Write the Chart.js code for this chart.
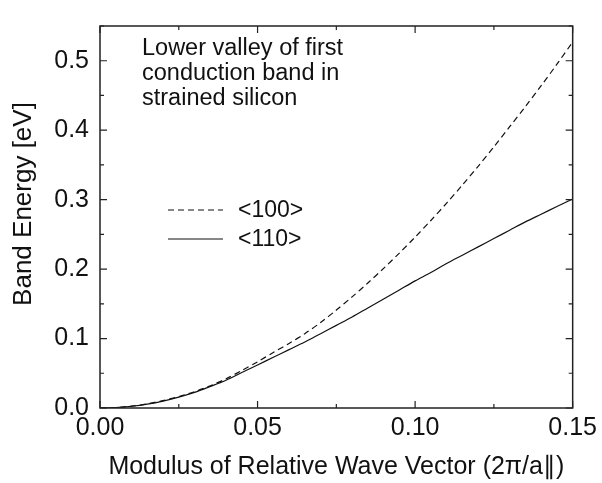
<!DOCTYPE html>
<html>
<head>
<meta charset="utf-8">
<script src="https://cdn.jsdelivr.net/npm/chart.js@4/dist/chart.umd.min.js"></script>
<style>
    html, body { margin: 0; padding: 0; background: #fff; }
    #wrap { width: 602px; height: 483px; }
</style>
</head>
<body>
<div id="wrap"><canvas id="band-chart"></canvas></div>
<script>
// Wave vector (2pi/a) sample points
const waveVector = [0, 0.005, 0.01, 0.015, 0.02, 0.025, 0.03, 0.035, 0.04, 0.045,
    0.05, 0.055, 0.06, 0.065, 0.07, 0.075, 0.08, 0.085, 0.09, 0.095,
    0.10, 0.105, 0.11, 0.115, 0.12, 0.125, 0.13, 0.135, 0.14, 0.145, 0.15];

// Band energy along <100> (dashed)
const energy100 = [0, 0.0007, 0.0027, 0.006, 0.0107, 0.0165, 0.0235, 0.032, 0.042, 0.054,
    0.0665, 0.080, 0.093, 0.107, 0.123, 0.141, 0.160, 0.180, 0.201, 0.223,
    0.246, 0.270, 0.295, 0.321, 0.348, 0.376, 0.405, 0.434, 0.464, 0.495, 0.527];

// Band energy along <110> (solid)
const energy110 = [0, 0.0006, 0.0025, 0.0056, 0.0100, 0.0157, 0.0225, 0.031, 0.040, 0.051,
    0.062, 0.073, 0.084, 0.095, 0.107, 0.119, 0.131, 0.144, 0.157, 0.170,
    0.183, 0.195, 0.208, 0.220, 0.232, 0.244, 0.256, 0.268, 0.279, 0.290, 0.301];

const seriesLabels = ['<100>', '<110>'];
const noteLines = ['Lower valley of first', 'conduction band in', 'strained silicon'];
const xTickValues = [0, 0.05, 0.10, 0.15];
const yTickValues = [0, 0.1, 0.2, 0.3, 0.4, 0.5];
const yTitle = 'Band Energy [eV]';

const FONT = "'Liberation Sans', Arial, Helvetica, sans-serif";
const INK = '#111';

const toPoints = (ys) => waveVector.map((x, i) => ({ x: x, y: ys[i] }));

// Draws the frame, inward ticks on all sides, the legend, the note and the y title
const framePlugin = {
    id: 'frame',
    afterDraw(chart) {
        const ctx = chart.ctx;
        const a = chart.chartArea;
        const xs = chart.scales.x;
        const ys = chart.scales.y;
        ctx.save();
        ctx.strokeStyle = '#222';
        ctx.lineWidth = 1.5;
        ctx.strokeRect(a.left, a.top, a.right - a.left, a.bottom - a.top);

        ctx.lineWidth = 1.2;
        ctx.beginPath();
        // x ticks every 0.025, major every 0.05
        for (let i = 0; i <= 6; i++) {
            const px = xs.getPixelForValue(i * 0.025);
            const len = i % 2 === 0 ? 7 : 4;
            ctx.moveTo(px, a.bottom); ctx.lineTo(px, a.bottom - len);
            ctx.moveTo(px, a.top); ctx.lineTo(px, a.top + len);
        }
        // y ticks every 0.05, major every 0.1
        for (let i = 0; i <= 11; i++) {
            const py = ys.getPixelForValue(i * 0.05);
            const len = i % 2 === 0 ? 7 : 4;
            ctx.moveTo(a.left, py); ctx.lineTo(a.left + len, py);
            ctx.moveTo(a.right, py); ctx.lineTo(a.right - len, py);
        }
        ctx.stroke();

        // legend inside the plot
        ctx.fillStyle = INK;
        ctx.font = '23px ' + FONT;
        ctx.textBaseline = 'middle';
        const legendY = [210, 239];
        chart.data.datasets.forEach((ds, i) => {
            ctx.strokeStyle = ds.borderColor;
            ctx.lineWidth = ds.borderWidth;
            ctx.setLineDash(ds.borderDash || []);
            ctx.beginPath();
            ctx.moveTo(168, legendY[i]);
            ctx.lineTo(223, legendY[i]);
            ctx.stroke();
            ctx.setLineDash([]);
            ctx.fillText(ds.label, 238, legendY[i] + 1);
        });

        // note text
        ctx.font = '23.5px ' + FONT;
        ctx.textBaseline = 'alphabetic';
        noteLines.forEach((line, i) => {
            ctx.fillText(line, 142, 55 + i * 25);
        });

        // y axis title
        ctx.font = '26px ' + FONT;
        ctx.textAlign = 'center';
        ctx.textBaseline = 'middle';
        ctx.translate(24, 204);
        ctx.rotate(-Math.PI / 2);
        ctx.fillText(yTitle, 0, 0);
        ctx.restore();
    }
};

new Chart(document.getElementById('band-chart').getContext('2d'), {
    type: 'line',
    data: {
        datasets: [
            {
                label: seriesLabels[0],
                data: toPoints(energy100),
                borderColor: INK,
                borderWidth: 1.2,
                borderDash: [6, 4],
                pointRadius: 0,
                fill: false,
                tension: 0.3
            },
            {
                label: seriesLabels[1],
                data: toPoints(energy110),
                borderColor: INK,
                borderWidth: 1.2,
                pointRadius: 0,
                fill: false,
                tension: 0.3
            }
        ]
    },
    options: {
        responsive: true,
        maintainAspectRatio: false,
        animation: false,
        layout: { padding: { left: 0, right: 29, top: 11, bottom: 0 } },
        scales: {
            x: {
                type: 'linear',
                min: 0,
                max: 0.15,
                afterBuildTicks: (s) => { s.ticks = xTickValues.map(v => ({ value: v })); },
                afterFit: (s) => { s.height = 75; },
                grid: { display: false, drawTicks: false },
                border: { display: false },
                ticks: {
                    padding: 5,
                    color: INK,
                    maxRotation: 0,
                    font: { family: FONT, size: 25 },
                    callback: (v) => Number(v).toFixed(2)
                },
                title: {
                    display: true,
                    text: 'Modulus of Relative Wave Vector (2\u03C0/a\u2225)',
                    color: INK,
                    font: { family: FONT, size: 25 },
                    padding: { top: 0, bottom: 1 }
                }
            },
            y: {
                type: 'linear',
                min: 0,
                max: 0.55,
                afterBuildTicks: (s) => { s.ticks = yTickValues.map(v => ({ value: v })); },
                afterFit: (s) => { s.width = 100; },
                grid: { display: false, drawTicks: false },
                border: { display: false },
                ticks: {
                    padding: 11,
                    color: INK,
                    font: { family: FONT, size: 25 },
                    callback: (v) => Number(v).toFixed(1)
                }
            }
        },
        plugins: {
            legend: { display: false },
            tooltip: { enabled: false }
        }
    },
    plugins: [framePlugin]
});
</script>
</body>
</html>
